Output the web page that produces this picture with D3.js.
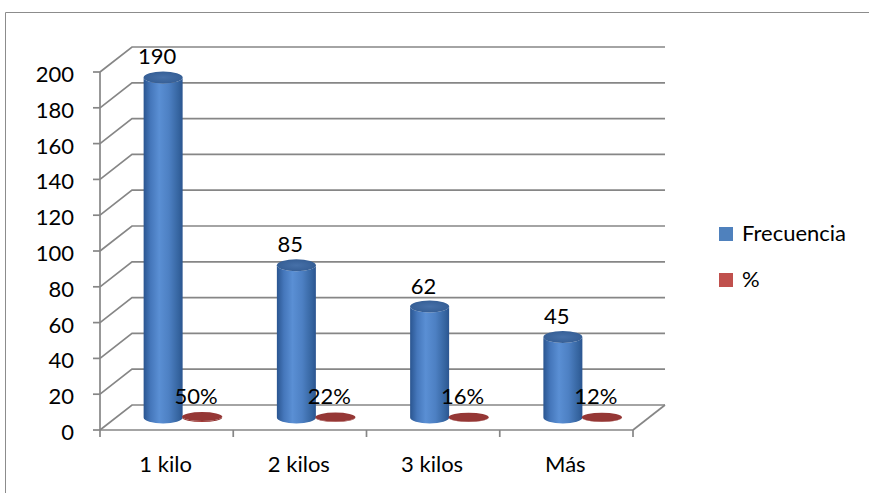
<!DOCTYPE html>
<html><head><meta charset="utf-8">
<script src="https://cdn.jsdelivr.net/npm/d3@7"></script>
<style>html,body{margin:0;padding:0;background:#fff;}svg{display:block;}</style>
</head><body>
<svg id="c" width="869" height="493"></svg>
<script>
const categories = ["1 kilo", "2 kilos", "3 kilos", "Más"];
const seriesNames = ["Frecuencia", "%"];
const frecuencia = [190, 85, 62, 45];
const porcentaje = [0.50, 0.22, 0.16, 0.12];
const yTicks = [0, 20, 40, 60, 80, 100, 120, 140, 160, 180, 200];

const svg = d3.select("#c");
const FONT = "Lato, 'Open Sans', sans-serif";
const FS = 22;

// frame
svg.append("path").attr("d", "M5.5,493 L5.5,12.5 L869,12.5")
  .attr("fill", "none").attr("stroke", "#8c8c8c").attr("stroke-width", 1);

const x = d3.scaleBand().domain(categories).range([100, 633]);
const y = d3.scaleLinear().domain([0, 200]).range([430, 72]);
const DX = 32, DY = -25;           // depth offset (back wall)
const MX = DX / 2, MY = DY / 2;    // mid depth (bars)
const xs = d3.scaleBand().domain(seriesNames).range([x.bandwidth() / 2 - 39, x.bandwidth() / 2 + 39]);

const grid = svg.append("g").attr("stroke", "#868686").attr("stroke-width", 1.7).attr("fill", "none");
yTicks.forEach(t => {
  const yf = y(t);
  grid.append("path").attr("d", `M100,${yf} L${100 + DX},${yf + DY} L${633 + DX},${yf + DY}`);
});
// floor right edge
grid.append("line").attr("x1", 633).attr("y1", y(0)).attr("x2", 633 + DX).attr("y2", y(0) + DY);
// front axes
grid.append("line").attr("x1", 100).attr("y1", y(200)).attr("x2", 100).attr("y2", y(0));
grid.append("line").attr("x1", 100).attr("y1", y(0)).attr("x2", 633).attr("y2", y(0));
yTicks.forEach(t => {
  grid.append("line").attr("x1", 93).attr("x2", 100).attr("y1", y(t)).attr("y2", y(t));
});
const catEdges = categories.map(c => x(c)).concat([633]);
catEdges.forEach(e => {
  grid.append("line").attr("x1", e).attr("x2", e).attr("y1", y(0)).attr("y2", y(0) + 7);
});

// y tick labels
svg.append("g").selectAll("text").data(yTicks).join("text")
  .attr("x", 74).attr("y", d => y(d) + 10)
  .attr("text-anchor", "end").attr("font-family", FONT).attr("font-size", FS).attr("fill", "#000")
  .text(d => d);

// category labels
svg.append("g").selectAll("text").data(categories).join("text")
  .attr("x", d => x(d) + x.bandwidth() / 2 - 1).attr("y", 472)
  .attr("text-anchor", "middle").attr("font-family", FONT).attr("font-size", FS).attr("fill", "#000")
  .text(d => d);

// gradients
const defs = svg.append("defs");
const gb = defs.append("linearGradient").attr("id", "gBlue").attr("x1", "0").attr("x2", "1").attr("y1", "0").attr("y2", "0");
[[0, "#2a5590"], [0.18, "#4577bb"], [0.4, "#5a8fd4"], [0.65, "#4d80c3"], [0.9, "#35649f"], [1, "#2b5590"]]
  .forEach(s => gb.append("stop").attr("offset", s[0]).attr("stop-color", s[1]));
const gbt = defs.append("radialGradient").attr("id", "gBlueTop");
[[0, "#4670a8"], [1, "#365f96"]].forEach(s => gbt.append("stop").attr("offset", s[0]).attr("stop-color", s[1]));
const gr = defs.append("linearGradient").attr("id", "gRed").attr("x1", "0").attr("x2", "1").attr("y1", "0").attr("y2", "0");
[[0, "#8a2f2d"], [0.45, "#a63c39"], [1, "#8a2f2d"]].forEach(s => gr.append("stop").attr("offset", s[0]).attr("stop-color", s[1]));

const seriesData = [
  {name: "Frecuencia", values: frecuencia, body: "url(#gBlue)", top: "url(#gBlueTop)", rx: 19.5, ry: 6, fmt: d => d},
  {name: "%", values: porcentaje, body: "url(#gRed)", top: "#953735", rx: 20, ry: 4.5, fmt: d => Math.round(d * 100) + "%"}
];

const bars = svg.append("g");
const labels = svg.append("g");
seriesData.forEach(s => {
  s.values.forEach((v, i) => {
    const cx = x(categories[i]) + MX + xs(s.name) + xs.bandwidth() / 2;
    const yb = y(0) + MY;
    const yt = y(v) + MY;
    const L = cx - s.rx, R = cx + s.rx;
    bars.append("path")
      .attr("d", `M${L},${yt} L${L},${yb} A${s.rx},${s.ry} 0 0 0 ${R},${yb} L${R},${yt} A${s.rx},${s.ry} 0 0 1 ${L},${yt} Z`)
      .attr("fill", s.body);
    bars.append("ellipse").attr("cx", cx).attr("cy", yt).attr("rx", s.rx).attr("ry", s.ry)
      .attr("fill", s.top);
    labels.append("text").attr("x", cx - 6).attr("y", yt - 13)
      .attr("text-anchor", "middle").attr("font-family", FONT).attr("font-size", FS).attr("fill", "#000")
      .text(s.fmt(v));
  });
});

// legend
const leg = svg.append("g");
const legColors = ["#4f81bd", "#c0504d"];
seriesNames.forEach((n, i) => {
  const ly = 241 + i * 46;
  leg.append("rect").attr("x", 719).attr("y", ly - 14).attr("width", 14).attr("height", 14).attr("fill", legColors[i]);
  leg.append("text").attr("x", 742).attr("y", ly).attr("font-family", FONT).attr("font-size", FS).attr("fill", "#000").text(n);
});
</script>
</body></html>
